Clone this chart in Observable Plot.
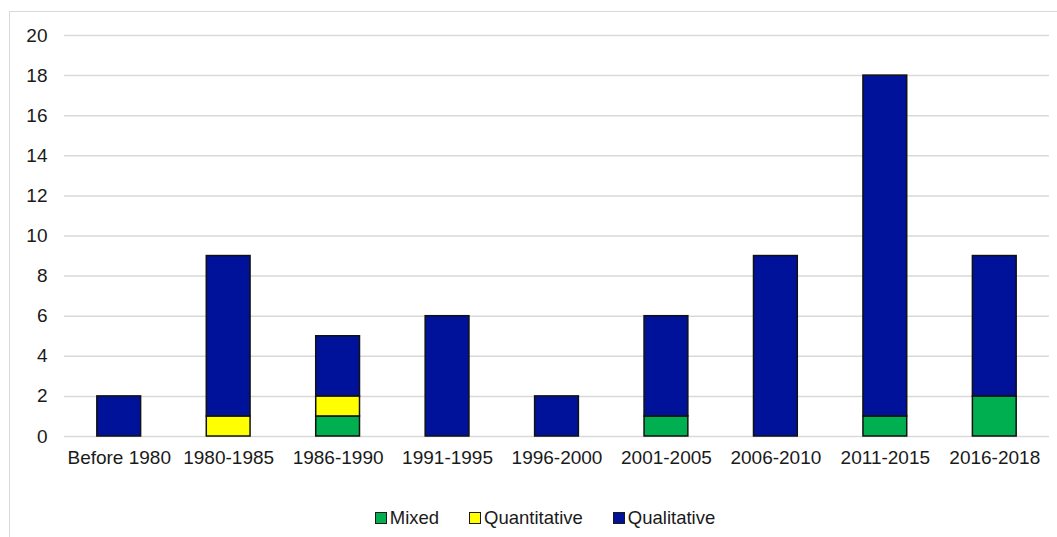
<!DOCTYPE html>
<html>
<head>
<meta charset="utf-8">
<script src="https://cdn.jsdelivr.net/npm/d3@7"></script>
<script src="https://cdn.jsdelivr.net/npm/@observablehq/plot@0.6"></script>
<style>
  html, body { margin: 0; padding: 0; background: #fff; overflow: hidden; width: 1057px; height: 537px; }
  #frame { position: absolute; left: 9px; top: 11px; width: 1100px; height: 600px; border: 1px solid #d9d9d9; }
  #chart { position: absolute; left: 0; top: 0; }
  #legend { position: absolute; left: 0; top: 507px; width: 1090px; display: flex; justify-content: center; gap: 30px;
            font-family: "Liberation Sans", Arial, sans-serif; font-size: 18.5px; color: #1a1a1a; }
  #legend .item { display: flex; align-items: center; gap: 3px; }
  #legend .sw { width: 10px; height: 10px; border: 1.5px solid #1a1a1a; }
</style>
</head>
<body>
<div id="frame"></div>
<div id="chart"></div>
<div id="legend"></div>
<script>
const categories = ["Before 1980", "1980-1985", "1986-1990", "1991-1995", "1996-2000", "2001-2005", "2006-2010", "2011-2015", "2016-2018"];
const seriesNames = ["Mixed", "Quantitative", "Qualitative"];
const seriesColors = ["#00B050", "#FFFF00", "#00129A"];
const mixed        = [0, 0, 1, 0, 0, 1, 0, 1, 2];
const quantitative = [0, 1, 1, 0, 0, 0, 0, 0, 0];
const qualitative  = [2, 8, 3, 6, 2, 5, 9, 17, 7];
const yTicks = [0, 2, 4, 6, 8, 10, 12, 14, 16, 18, 20];

const valuesBySeries = [mixed, quantitative, qualitative];
const rows = [];
seriesNames.forEach((s, si) => {
  categories.forEach((c, ci) => {
    rows.push({category: c, series: s, value: valuesBySeries[si][ci]});
  });
});

const chart = Plot.plot({
  width: 1057,
  height: 480,
  marginLeft: 64,
  marginRight: 8,
  marginTop: 35,
  marginBottom: 44,
  style: {fontFamily: "'Liberation Sans', Arial, sans-serif", fontSize: "19px", color: "#1a1a1a", background: "transparent"},
  x: {domain: categories, paddingInner: 0.6, paddingOuter: 0.3, round: false, label: null, tickSize: 0, tickPadding: 14},
  y: {domain: [0, 20], ticks: yTicks, label: null, tickSize: 0, tickPadding: 17},
  color: {domain: seriesNames, range: seriesColors},
  marks: [
    Plot.gridY(yTicks, {stroke: "#d9d9d9", strokeOpacity: 1, strokeWidth: 1.5}),
    Plot.barY(rows.filter(d => d.value > 0), Plot.stackY({
      x: "category", y: "value", fill: "series", order: seriesNames,
      stroke: "#111", strokeWidth: 1.5
    })),
    Plot.axisX({tickSize: 0, tickPadding: 14, fontSize: 19}),
    Plot.axisY(yTicks, {tickSize: 0, tickPadding: 17, fontSize: 19})
  ]
});
document.getElementById("chart").appendChild(chart);

const legend = document.getElementById("legend");
seriesNames.forEach((s, i) => {
  const item = document.createElement("div");
  item.className = "item";
  const sw = document.createElement("div");
  sw.className = "sw";
  sw.style.background = seriesColors[i];
  const t = document.createElement("span");
  t.textContent = s;
  item.appendChild(sw);
  item.appendChild(t);
  legend.appendChild(item);
});
</script>
</body>
</html>
